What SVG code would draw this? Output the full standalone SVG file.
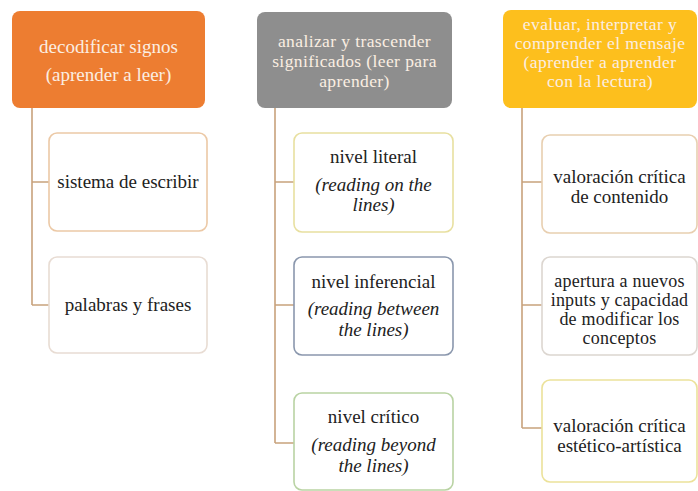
<svg xmlns="http://www.w3.org/2000/svg" width="698" height="491" viewBox="0 0 698 491" font-family="Liberation Serif, DejaVu Serif, serif">
<style>
.hdr{stroke:none}
.hdrtxt{fill:#fbeee2;text-anchor:middle;font-size:17.5px;letter-spacing:0.4px}
.box{fill:#ffffff;stroke-width:1.6}
.txt{font-size:19px;fill:#222;text-anchor:middle}
.sm{font-size:18px;letter-spacing:0.2px}
.it{font-style:italic}
.conn{fill:none;stroke:#c8a27c;stroke-width:1.6}
</style>
<rect width="698" height="491" fill="#ffffff"/>
<g id="connectors">
<path class="conn" d="M32 108 V305 M32 182 H49 M32 305 H49"/>
<path class="conn" d="M275 108 V443 M275 182 H294 M275 305 H294 M275 443 H294"/>
<path class="conn" d="M522 108 V428 M522 182 H542 M522 305 H542 M522 428 H542"/>
</g>
<g id="h1">
<rect class="hdr" x="12" y="11" width="193" height="97" rx="8" fill="#ed7d31"/>
<text class="hdrtxt" font-size="19" style="font-size:19px;letter-spacing:0" x="108.5" y="53">decodificar signos</text>
<text class="hdrtxt" style="font-size:19px;letter-spacing:0" x="108.5" y="81">(aprender a leer)</text>
</g>
<g id="h2">
<rect class="hdr" x="257" y="12" width="195" height="96" rx="8" fill="#8e8e8e"/>
<text class="hdrtxt" x="354.5" y="47">analizar y trascender</text>
<text class="hdrtxt" x="354.5" y="67">significados (leer para</text>
<text class="hdrtxt" x="354.5" y="87">aprender)</text>
</g>
<g id="h3">
<rect class="hdr" x="503" y="10" width="194" height="98" rx="8" fill="#fdbf1d"/>
<text class="hdrtxt" x="600" y="30">evaluar, interpretar y</text>
<text class="hdrtxt" x="600" y="49">comprender el mensaje</text>
<text class="hdrtxt" x="600" y="68">(aprender a aprender</text>
<text class="hdrtxt" x="600" y="87">con la lectura)</text>
</g>
<g id="c1a">
<rect class="box" x="49" y="133" width="158" height="98" rx="8" stroke="#ecc9a6"/>
<text class="txt" x="128" y="188">sistema de escribir</text>
</g>
<g id="c1b">
<rect class="box" x="49" y="257" width="158" height="96" rx="8" stroke="#e8dcd3"/>
<text class="txt" x="128" y="311">palabras y frases</text>
</g>
<g id="c2a">
<rect class="box" x="294" y="133" width="159" height="99" rx="8" stroke="#e8e0a0"/>
<text class="txt" x="373.5" y="163">nivel literal</text>
<text class="txt it" x="373.5" y="191">(reading on the</text>
<text class="txt it" x="373.5" y="211">lines)</text>
</g>
<g id="c2b">
<rect class="box" x="294" y="257" width="159" height="98" rx="8" stroke="#8a97ad"/>
<text class="txt" x="373.5" y="288">nivel inferencial</text>
<text class="txt it" x="373.5" y="315">(reading between</text>
<text class="txt it" x="373.5" y="336">the lines)</text>
</g>
<g id="c2c">
<rect class="box" x="294" y="393" width="159" height="97" rx="8" stroke="#b9d3a3"/>
<text class="txt" x="373.5" y="423">nivel crítico</text>
<text class="txt it" x="373.5" y="451">(reading beyond</text>
<text class="txt it" x="373.5" y="472">the lines)</text>
</g>
<g id="c3a">
<rect class="box" x="542" y="135" width="155" height="98" rx="8" stroke="#e8cfb0"/>
<text class="txt" x="619.5" y="183">valoración crítica</text>
<text class="txt" x="619.5" y="203">de contenido</text>
</g>
<g id="c3b">
<rect class="box" x="542" y="257" width="155" height="98" rx="8" stroke="#dcd6d0"/>
<text class="txt sm" x="619.5" y="287">apertura a nuevos</text>
<text class="txt sm" x="619.5" y="306">inputs y capacidad</text>
<text class="txt sm" x="619.5" y="325">de modificar los</text>
<text class="txt sm" x="619.5" y="344">conceptos</text>
</g>
<g id="c3c">
<rect class="box" x="542" y="380" width="155" height="102" rx="8" stroke="#ece29a"/>
<text class="txt" x="619.5" y="432">valoración crítica</text>
<text class="txt" x="619.5" y="452">estético-artística</text>
</g>
</svg>
